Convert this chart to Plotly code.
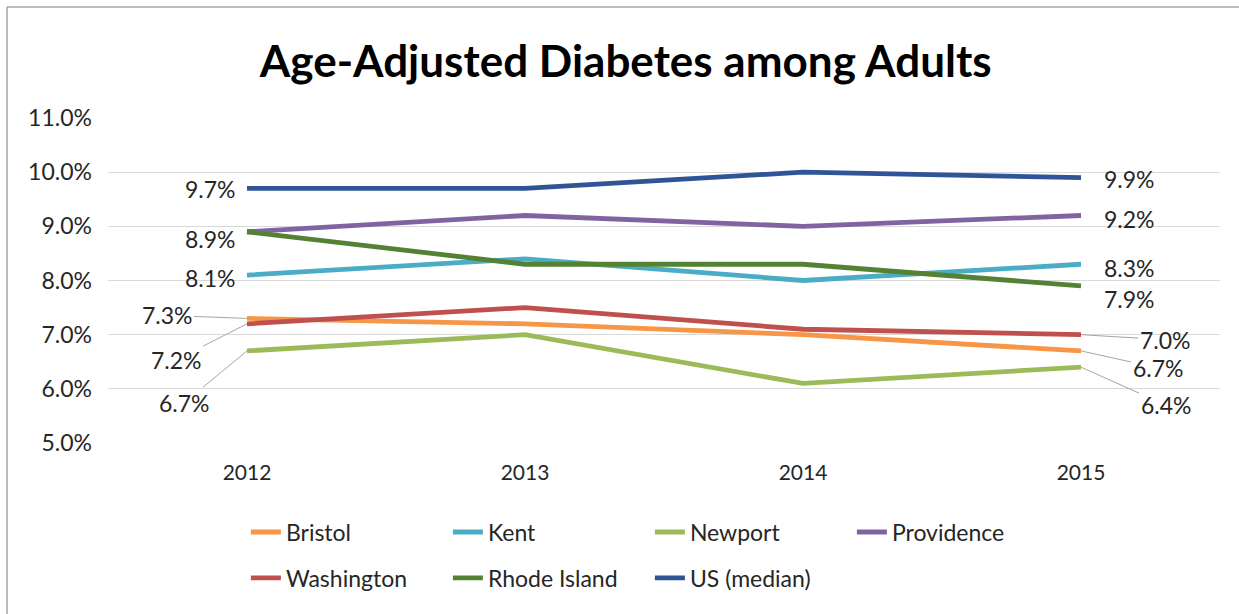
import plotly.graph_objects as go

years = ["2012", "2013", "2014", "2015"]
bristol = [7.3, 7.2, 7.0, 6.7]
kent = [8.1, 8.4, 8.0, 8.3]
newport = [6.7, 7.0, 6.1, 6.4]
providence = [8.9, 9.2, 9.0, 9.2]
washington = [7.2, 7.5, 7.1, 7.0]
rhode_island = [8.9, 8.3, 8.3, 7.9]
us_median = [9.7, 9.7, 10.0, 9.9]

y_ticks = [5, 6, 7, 8, 9, 10, 11]

series = [
    ("Bristol", bristol, "#F79646", "legend"),
    ("Kent", kent, "#4BACC6", "legend"),
    ("Newport", newport, "#9BBB59", "legend"),
    ("Providence", providence, "#8064A2", "legend"),
    ("Washington", washington, "#C0504D", "legend2"),
    ("Rhode Island", rhode_island, "#548235", "legend2"),
    ("US (median)", us_median, "#2F5597", "legend2"),
]

FONT = "Lato"
fig = go.Figure()
for name, vals, color, lg in series:
    fig.add_trace(go.Scatter(
        x=list(range(len(years))), y=vals, name=name, mode="lines",
        line=dict(color=color, width=4.8),
        legend=lg,
    ))

lbl_font = dict(family=FONT, size=23, color="#262626")


def fmt(v):
    return f"{v:.1f}%"


# left labels (2012)
left_plain = [(us_median, 0, -1), (rhode_island, 0, -7), (kent, 0, -3)]
for vals, i, ys in left_plain:
    fig.add_annotation(x=i, y=vals[i], text=fmt(vals[i]), showarrow=False,
                       xanchor="right", xshift=-9, yshift=ys, font=lbl_font)
left_arrow = [(bristol, 0, -80, -3), (washington, 0, -71, 36), (newport, 0, -63, 52)]
for vals, i, ax, ay in left_arrow:
    fig.add_annotation(x=i, y=vals[i], text=fmt(vals[i]), showarrow=True,
                       arrowhead=0, arrowwidth=1, arrowcolor="#A6A6A6",
                       ax=ax, ay=ay, font=lbl_font, standoff=0)

# right labels (2015)
right_plain = [(us_median, 3, -1), (providence, 3, -3), (kent, 3, -4), (rhode_island, 3, -13)]
for vals, i, ys in right_plain:
    fig.add_annotation(x=i, y=vals[i], text=fmt(vals[i]), showarrow=False,
                       xanchor="left", xshift=21, yshift=ys, font=lbl_font)
right_arrow = [(washington, 3, 84, 5), (bristol, 3, 77, 17), (newport, 3, 85, 38)]
for vals, i, ax, ay in right_arrow:
    fig.add_annotation(x=i, y=vals[i], text=fmt(vals[i]), showarrow=True,
                       arrowhead=0, arrowwidth=1, arrowcolor="#A6A6A6",
                       ax=ax, ay=ay, font=lbl_font, standoff=0)

# outer chart border (left and top edges)
fig.add_shape(type="line", xref="paper", yref="paper", x0=-0.0908, x1=-0.0908,
              y0=-0.6, y1=1.3415, line=dict(color="#A6A6A6", width=1.5))
fig.add_shape(type="line", xref="paper", yref="paper", x0=-0.0908, x1=1.1,
              y0=1.3415, y1=1.3415, line=dict(color="#A6A6A6", width=1.5))

fig.update_layout(
    width=1239, height=614,
    margin=dict(l=108, r=19, t=118, b=171),
    paper_bgcolor="white", plot_bgcolor="white",
    title=dict(text="<b>Age-Adjusted Diabetes among Adults</b>", x=0.505, xanchor="center",
               y=0.9, yanchor="middle", font=dict(family=FONT, size=44, color="black")),
    xaxis=dict(range=[-0.5, 3.5], tickvals=list(range(len(years))), ticktext=years,
               showgrid=False, zeroline=False,
               showline=False, ticks="", tickfont=dict(family=FONT, size=21, color="#262626"),
               ticklabelstandoff=15),
    yaxis=dict(range=[5, 11], tickvals=y_ticks, ticktext=[f"{v:.1f}%" for v in y_ticks],
               showgrid=True, gridcolor="#D9D9D9", gridwidth=1, zeroline=False,
               showline=False, ticks="", ticklabelstandoff=15,
               tickfont=dict(family=FONT, size=23, color="#262626")),
    showlegend=True,
    legend=dict(orientation="h", x=0.124, y=-0.274, xanchor="left", yanchor="middle",
                font=dict(family=FONT, size=23, color="#262626"),
                entrywidth=157, entrywidthmode="pixels", bgcolor="rgba(0,0,0,0)",
                itemwidth=30, tracegroupgap=0),
    legend2=dict(orientation="h", x=0.124, y=-0.415, xanchor="left", yanchor="middle",
                 font=dict(family=FONT, size=23, color="#262626"),
                 entrywidth=157, entrywidthmode="pixels", bgcolor="rgba(0,0,0,0)",
                 itemwidth=30, tracegroupgap=0),
)

fig.write_html("out.html")
